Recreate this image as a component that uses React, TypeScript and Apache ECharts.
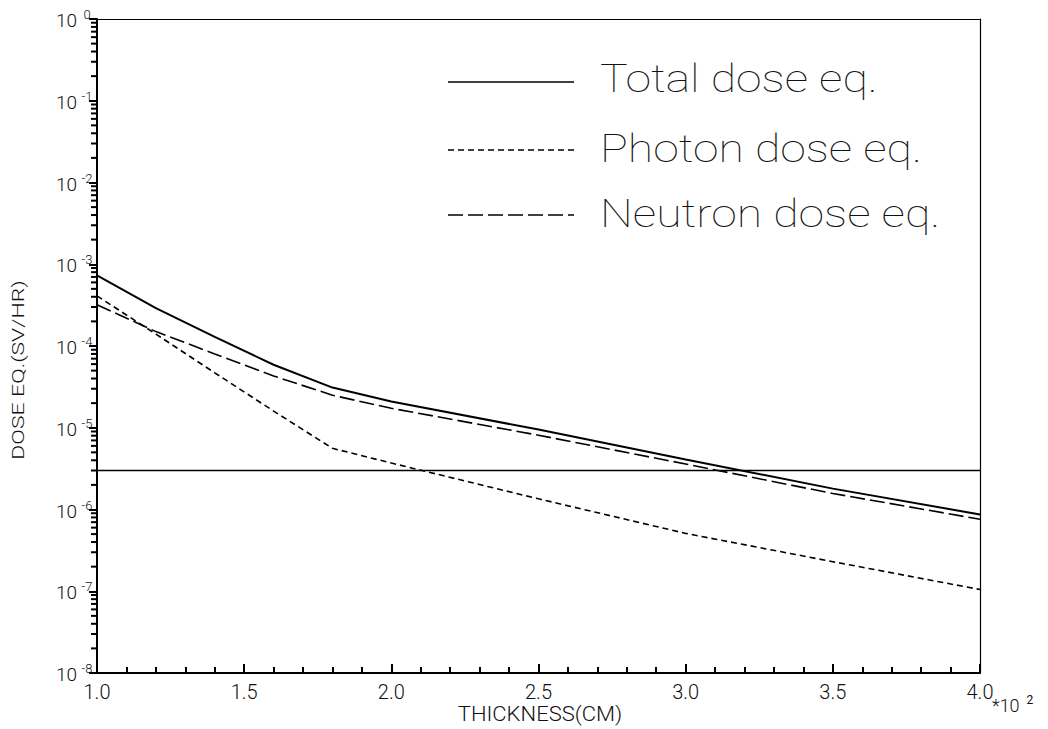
import React, { useEffect, useRef } from "react";
import * as echarts from "echarts";

// Thickness in units of 10^2 cm
const thickness = [1.0, 1.2, 1.4, 1.6, 1.8, 2.0, 2.5, 3.0, 3.5, 4.0];
// Dose equivalent rates (Sv/hr)
const totalDose = [7.3e-4, 2.9e-4, 1.29e-4, 5.9e-5, 3.1e-5, 2.1e-5, 9.5e-6, 4.1e-6, 1.8e-6, 8.7e-7];
const photonDose = [4.1e-4, 1.4e-4, 4.7e-5, 1.6e-5, 5.6e-6, 3.7e-6, 1.35e-6, 5.1e-7, 2.3e-7, 1.05e-7];
const neutronDose = [3.2e-4, 1.5e-4, 8.0e-5, 4.3e-5, 2.5e-5, 1.73e-5, 8.1e-6, 3.6e-6, 1.57e-6, 7.6e-7];
const referenceLevel = 3e-6;

const seriesNames = ["Total dose eq.", "Photon dose eq.", "Neutron dose eq."];
const xTickLabels = ["1.0", "1.5", "2.0", "2.5", "3.0", "3.5", "4.0"];
const decadeExponents = [-8, -7, -6, -5, -4, -3, -2, -1];
const minorMultipliers = [2, 3, 4, 5, 6, 7, 8, 9];

const FONT = "Roboto";
const INK = "#111";

export default function App() {
  const ref = useRef<HTMLDivElement>(null);

  useEffect(() => {
    if (!ref.current) return;
    const chart = echarts.init(ref.current, undefined, { renderer: "svg" });

    const minorTickData: number[][] = [];
    decadeExponents.forEach((e) => {
      minorMultipliers.forEach((m) => {
        minorTickData.push([thickness[0], m * Math.pow(10, e)]);
      });
    });

    const lineData = (vals: number[]) => thickness.map((t, i) => [t, vals[i]]);
    const refLineData = [
      [thickness[0], referenceLevel],
      [thickness[thickness.length - 1], referenceLevel],
    ];

    const legendRows = [
      { y: 82, dash: [1, 0], ty: 79 },
      { y: 150, dash: [6, 4], ty: 149 },
      { y: 215, dash: [15, 5], ty: 214 },
    ];

    const graphics: any[] = [];
    legendRows.forEach((r, i) => {
      graphics.push({
        type: "line",
        shape: { x1: 448, y1: r.y, x2: 574, y2: r.y },
        style: { stroke: "#000", lineWidth: 1.5, lineDash: r.dash },
      });
      graphics.push({
        type: "text",
        x: 600,
        y: r.ty,
        scaleX: 1.22,
        style: {
          text: seriesNames[i],
          font: `100 38px ${FONT}`,
          fill: INK,
          verticalAlign: "middle",
          align: "left",
        },
      });
    });
    graphics.push({
      type: "text",
      x: 18,
      y: 370,
      rotation: Math.PI / 2,
      scaleX: 1.35,
      style: {
        text: "DOSE EQ.(SV/HR)",
        font: `300 17px ${FONT}`,
        fill: INK,
        align: "center",
        verticalAlign: "middle",
      },
    });
    graphics.push({
      type: "text",
      x: 540,
      y: 714,
      scaleX: 1.1,
      style: {
        text: "THICKNESS(CM)",
        font: `300 20px ${FONT}`,
        fill: INK,
        align: "center",
        verticalAlign: "middle",
      },
    });
    graphics.push({
      type: "text",
      x: 992,
      y: 704,
      style: {
        text: "{a|*10}{b|2}",
        rich: {
          a: { font: `300 18px ${FONT}`, fill: INK, verticalAlign: "bottom", lineHeight: 20 },
          b: { font: `400 12px ${FONT}`, fill: INK, verticalAlign: "top", lineHeight: 12, padding: [0, 0, 0, 7] },
        },
        verticalAlign: "middle",
      },
    });

    const frameAxis = {
      axisLine: { show: true, lineStyle: { color: "#000", width: 1.2 } },
      axisTick: { show: false },
      axisLabel: { show: false },
      splitLine: { show: false },
    };

    const option: any = {
      animation: false,
      grid: { left: 97, right: 68, top: 19, bottom: 56, show: false },
      xAxis: [
        {
          type: "value",
          min: 1,
          max: 4,
          interval: 0.5,
          axisLine: { show: true, lineStyle: { color: "#000", width: 2 } },
          axisTick: { show: true, inside: true, length: 9, lineStyle: { color: "#000", width: 2 } },
          minorTick: { show: true, splitNumber: 5, length: 6, lineStyle: { color: "#000", width: 2 } },
          splitLine: { show: false },
          axisLabel: {
            margin: 9,
            fontFamily: FONT,
            fontWeight: 300,
            fontSize: 20,
            color: INK,
            formatter: (v: number) => {
              const idx = Math.round((v - 1) / 0.5);
              return xTickLabels[idx] ?? "";
            },
          },
        },
        { type: "value", position: "top", min: 1, max: 4, ...frameAxis },
      ],
      yAxis: [
        {
          type: "log",
          logBase: 10,
          min: 1e-8,
          max: 1,
          axisLine: { show: true, lineStyle: { color: "#000", width: 2 } },
          axisTick: { show: true, inside: false, length: 8, lineStyle: { color: "#000", width: 2 } },
          splitLine: { show: false },
          axisLabel: {
            margin: 3,
            formatter: (v: number) => {
              const e = Math.round(Math.log10(v));
              return `{b|10}{e|${e}}`;
            },
            rich: {
              b: { fontFamily: FONT, fontWeight: 300, fontSize: 19, color: INK, lineHeight: 22, verticalAlign: "bottom" },
              e: { fontFamily: FONT, fontWeight: 300, fontSize: 13, color: INK, lineHeight: 12, verticalAlign: "top", width: 14, align: "left", padding: [0, 0, 0, 3] },
            },
          },
        },
        { type: "log", logBase: 10, position: "right", min: 1e-8, max: 1, ...frameAxis },
      ],
      series: [
        {
          name: seriesNames[0],
          type: "line",
          data: lineData(totalDose),
          symbol: "none",
          lineStyle: { color: "#000", width: 2, type: "solid" },
        },
        {
          name: seriesNames[1],
          type: "line",
          data: lineData(photonDose),
          symbol: "none",
          lineStyle: { color: "#000", width: 1.6, type: [6, 4] },
        },
        {
          name: seriesNames[2],
          type: "line",
          data: lineData(neutronDose),
          symbol: "none",
          lineStyle: { color: "#000", width: 1.6, type: [15, 5] },
        },
        {
          name: "Reference level",
          type: "line",
          data: refLineData,
          symbol: "none",
          lineStyle: { color: "#000", width: 1.6, type: "solid" },
        },
        {
          type: "custom",
          data: minorTickData,
          clip: false,
          z: 10,
          renderItem: (params: any, api: any) => {
            const p = api.coord([api.value(0), api.value(1)]);
            return {
              type: "line",
              shape: { x1: p[0] - 6, y1: p[1], x2: p[0], y2: p[1] },
              style: { stroke: "#000", lineWidth: 2 },
            };
          },
        },
      ],
      graphic: graphics,
    };

    chart.setOption(option);
    return () => chart.dispose();
  }, []);

  return (
    <div
      ref={ref}
      style={{ position: "fixed", left: 0, top: 0, width: 1048, height: 729, background: "#fff" }}
    />
  );
}
